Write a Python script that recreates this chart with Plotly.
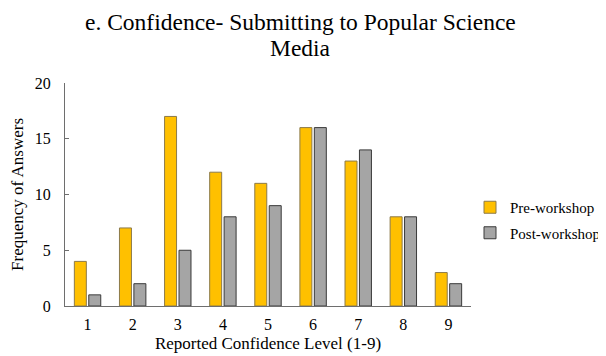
import plotly.graph_objects as go

categories = ["1", "2", "3", "4", "5", "6", "7", "8", "9"]
pre_workshop = [4, 7, 17, 12, 11, 16, 13, 8, 3]
post_workshop = [1, 2, 5, 8, 9, 16, 14, 8, 2]
y_ticks = [0, 5, 10, 15, 20]
title_lines = ["e. Confidence- Submitting to Popular Science", "Media"]

FONT = "Liberation Serif"

# page body has an 8px default margin, so the figure is sized to fit
W, H = 598, 348
L, T, R, B = 57, 75, 135, 50

fig = go.Figure()
fig.add_trace(go.Bar(
    x=categories, y=pre_workshop, name="Pre-workshop",
    marker=dict(color="#FFC000", line=dict(color="#8C7A4A", width=1)),
    legendgroup="pre",
))
fig.add_trace(go.Bar(
    x=categories, y=post_workshop, name="Post-workshop",
    marker=dict(color="#A5A5A5", line=dict(color="#3A3A3A", width=1)),
    legendgroup="post",
))

pw = W - L - R
ph = H - T - B
cx = (292 - L) / pw  # title centre in paper coords
for i, line in enumerate(title_lines):
    ycen = 14 + 26 * i  # figure-local px
    fig.add_annotation(
        text=line, xref="paper", yref="paper",
        x=cx, y=1 + (T - ycen) / ph, xanchor="center", yanchor="middle",
        showarrow=False, font=dict(family=FONT, size=23.5, color="black"),
    )

fig.update_layout(
    width=W, height=H,
    margin=dict(l=L, r=R, t=T, b=B, autoexpand=False),
    paper_bgcolor="white", plot_bgcolor="white",
    font=dict(family=FONT, size=16, color="black"),
    barmode="group", bargap=0.36, bargroupgap=0.17,
    showlegend=True,
    legend=dict(
        x=(462 - L) / pw, xanchor="left", y=(298 - 212) / ph, yanchor="middle",
        font=dict(family=FONT, size=15, color="black"),
        traceorder="grouped", tracegroupgap=3,
        itemwidth=30, bgcolor="rgba(0,0,0,0)",
    ),
    xaxis=dict(
        title=dict(text="Reported Confidence Level (1-9)", font=dict(family=FONT, size=17), standoff=4),
        showline=True, linecolor="#6E6E6E", linewidth=1,
        ticks="", showgrid=False, tickfont=dict(family=FONT, size=16),
        ticklabelstandoff=4,
    ),
    yaxis=dict(
        title=dict(text="Frequency of Answers", font=dict(family=FONT, size=17), standoff=7),
        range=[0, 20], tickvals=y_ticks,
        showline=True, linecolor="#6E6E6E", linewidth=1,
        ticks="inside", ticklen=4, tickcolor="#6E6E6E",
        showgrid=False, zeroline=False, tickfont=dict(family=FONT, size=16),
        ticklabelstandoff=10,
    ),
)

fig.write_html("out.html")
